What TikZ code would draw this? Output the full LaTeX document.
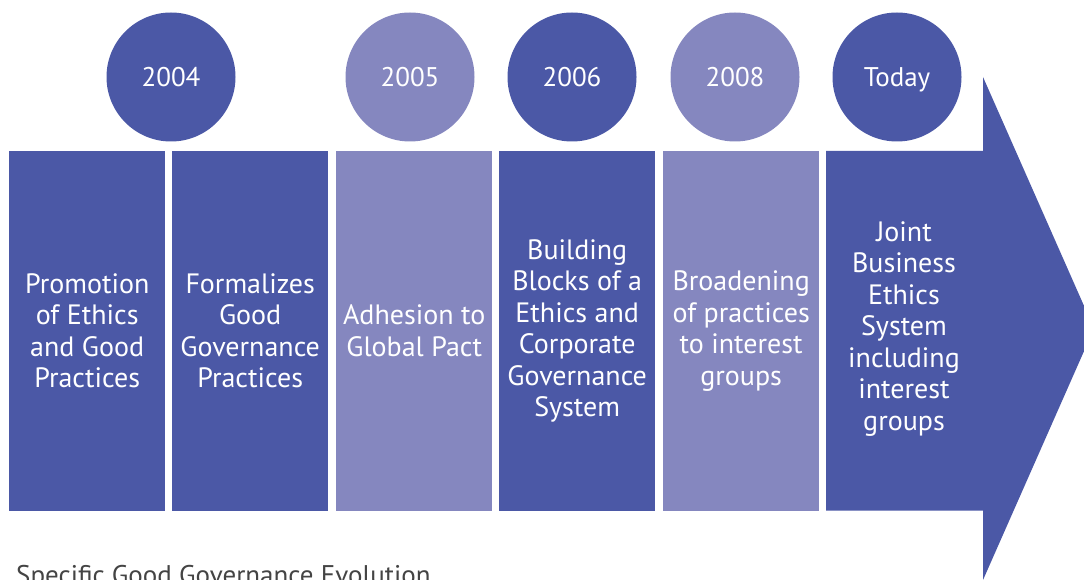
\documentclass[tikz,border=0pt]{standalone}
\usepackage{fontspec}
\setmainfont{PT Sans}
\definecolor{dk}{HTML}{4B58A6}
\definecolor{lt}{HTML}{8587BF}
\definecolor{capg}{HTML}{444444}
\begin{document}
\begin{tikzpicture}[x=1pt,y=-1pt,
  yearc/.style={circle,minimum size=129pt,inner sep=0pt,text depth=0pt,text=white,font=\fontsize{27}{30}\selectfont},
  blk/.style={minimum width=156pt,minimum height=359.5pt,inner sep=0pt,text=white,align=center,
    font=\fontsize{28}{31.5}\selectfont,anchor=north west},
  txt/.style={text=white,align=center,font=\fontsize{28}{31.5}\selectfont}]
\useasboundingbox (0,0) rectangle (1084,580);
\clip (0,0) rectangle (1084,580);
% arrow
\fill[dk] (826,151) -- (983,151) -- (983,77) -- (1094,328.5) -- (983,580) -- (983,510.5) -- (826,510.5) -- cycle;
\node[txt] (t6) at (904,329) {Joint\\Business\\Ethics\\System\\including\\interest\\groups};
% blocks
\node[blk,fill=dk] (b1) at (9,151) {Promotion\\of Ethics\\and Good\\Practices};
\node[blk,fill=dk] (b2) at (172,151) {Formalizes\\Good\\Governance\\Practices};
\node[blk,fill=lt] (b3) at (336,151) {Adhesion to\\Global Pact};
\node[blk,fill=dk] (b4) at (499,151) {Building\\Blocks of a\\Ethics and\\Corporate\\Governance\\System};
\node[blk,fill=lt] (b5) at (663,151) {Broadening\\of practices\\to interest\\groups};
% circles
\node[yearc,fill=dk] (c1) at (171,77) {2004};
\node[yearc,fill=lt] (c2) at (410,77) {2005};
\node[yearc,fill=dk] (c3) at (572,77) {2006};
\node[yearc,fill=lt] (c4) at (735,77) {2008};
\node[yearc,fill=dk] (c5) at (897,77) {Today};
% caption
\node[anchor=base west,inner sep=0pt,text=capg,font=\fontsize{27}{30}\selectfont] (cap) at (16,584) {Specific Good Governance Evolution};
\end{tikzpicture}
\end{document}
